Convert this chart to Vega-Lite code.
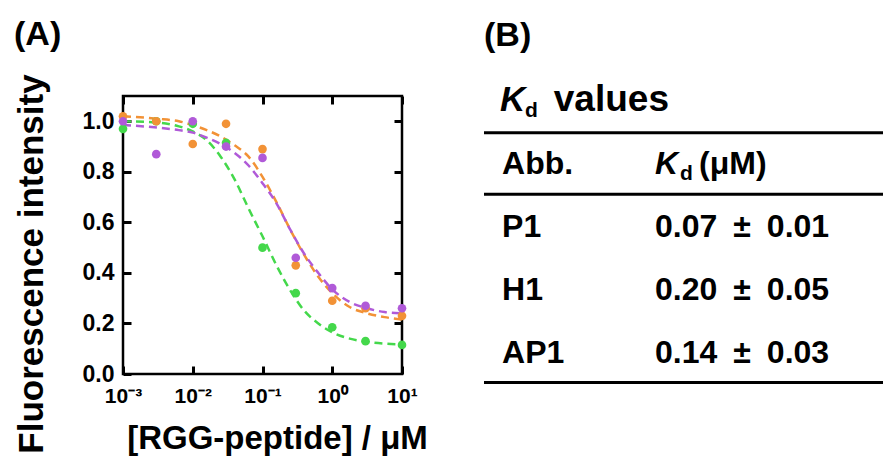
{
  "$schema": "https://vega.github.io/schema/vega-lite/v6.json",
  "background": "white",
  "padding": {"left": 12, "top": 16, "right": 0, "bottom": 0},
  "bounds": "flush",
  "spacing": 82,
  "config": {
    "view": {"stroke": null},
    "font": "Liberation Sans"
  },
  "datasets": {
    "pts": [
      {"peptide": "P1", "conc": 0.001, "fi": 0.97},
      {"peptide": "P1", "conc": 0.003, "fi": 1.0},
      {"peptide": "P1", "conc": 0.01, "fi": 0.99},
      {"peptide": "P1", "conc": 0.03, "fi": 0.915},
      {"peptide": "P1", "conc": 0.1, "fi": 0.5},
      {"peptide": "P1", "conc": 0.3, "fi": 0.32},
      {"peptide": "P1", "conc": 1, "fi": 0.185},
      {"peptide": "P1", "conc": 3, "fi": 0.13},
      {"peptide": "P1", "conc": 10, "fi": 0.115},
      {"peptide": "AP1", "conc": 0.001, "fi": 1.02},
      {"peptide": "AP1", "conc": 0.003, "fi": 1.0},
      {"peptide": "AP1", "conc": 0.01, "fi": 0.91},
      {"peptide": "AP1", "conc": 0.03, "fi": 0.99},
      {"peptide": "AP1", "conc": 0.1, "fi": 0.89},
      {"peptide": "AP1", "conc": 0.3, "fi": 0.43},
      {"peptide": "AP1", "conc": 1, "fi": 0.29},
      {"peptide": "AP1", "conc": 3, "fi": 0.26},
      {"peptide": "AP1", "conc": 10, "fi": 0.23},
      {"peptide": "H1", "conc": 0.001, "fi": 1.0},
      {"peptide": "H1", "conc": 0.003, "fi": 0.87},
      {"peptide": "H1", "conc": 0.01, "fi": 1.0},
      {"peptide": "H1", "conc": 0.03, "fi": 0.9},
      {"peptide": "H1", "conc": 0.1, "fi": 0.855},
      {"peptide": "H1", "conc": 0.3, "fi": 0.46},
      {"peptide": "H1", "conc": 1, "fi": 0.34},
      {"peptide": "H1", "conc": 3, "fi": 0.27},
      {"peptide": "H1", "conc": 10, "fi": 0.26}
    ],
    "fit": [
      {"peptide": "P1", "conc": 0.001, "fi": 1.0},
      {"peptide": "P1", "conc": 0.003162, "fi": 0.995},
      {"peptide": "P1", "conc": 0.00631, "fi": 0.98},
      {"peptide": "P1", "conc": 0.01, "fi": 0.96},
      {"peptide": "P1", "conc": 0.01585, "fi": 0.925},
      {"peptide": "P1", "conc": 0.02512, "fi": 0.86},
      {"peptide": "P1", "conc": 0.03981, "fi": 0.77},
      {"peptide": "P1", "conc": 0.0631, "fi": 0.655},
      {"peptide": "P1", "conc": 0.1, "fi": 0.545},
      {"peptide": "P1", "conc": 0.1585, "fi": 0.43},
      {"peptide": "P1", "conc": 0.2512, "fi": 0.33},
      {"peptide": "P1", "conc": 0.3981, "fi": 0.25},
      {"peptide": "P1", "conc": 0.631, "fi": 0.2},
      {"peptide": "P1", "conc": 1, "fi": 0.165},
      {"peptide": "P1", "conc": 1.778, "fi": 0.14},
      {"peptide": "P1", "conc": 3.162, "fi": 0.127},
      {"peptide": "P1", "conc": 5.623, "fi": 0.12},
      {"peptide": "P1", "conc": 10, "fi": 0.117},
      {"peptide": "AP1", "conc": 0.001, "fi": 1.02},
      {"peptide": "AP1", "conc": 0.003162, "fi": 1.01},
      {"peptide": "AP1", "conc": 0.00631, "fi": 1.0},
      {"peptide": "AP1", "conc": 0.01, "fi": 0.985},
      {"peptide": "AP1", "conc": 0.01585, "fi": 0.965},
      {"peptide": "AP1", "conc": 0.02512, "fi": 0.94},
      {"peptide": "AP1", "conc": 0.03981, "fi": 0.905},
      {"peptide": "AP1", "conc": 0.0631, "fi": 0.86},
      {"peptide": "AP1", "conc": 0.1, "fi": 0.78},
      {"peptide": "AP1", "conc": 0.1585, "fi": 0.68},
      {"peptide": "AP1", "conc": 0.2512, "fi": 0.57},
      {"peptide": "AP1", "conc": 0.3981, "fi": 0.47},
      {"peptide": "AP1", "conc": 0.631, "fi": 0.385},
      {"peptide": "AP1", "conc": 1, "fi": 0.32},
      {"peptide": "AP1", "conc": 1.778, "fi": 0.265},
      {"peptide": "AP1", "conc": 3.162, "fi": 0.24},
      {"peptide": "AP1", "conc": 5.623, "fi": 0.225},
      {"peptide": "AP1", "conc": 10, "fi": 0.215},
      {"peptide": "H1", "conc": 0.001, "fi": 0.985},
      {"peptide": "H1", "conc": 0.003162, "fi": 0.975},
      {"peptide": "H1", "conc": 0.00631, "fi": 0.965},
      {"peptide": "H1", "conc": 0.01, "fi": 0.955},
      {"peptide": "H1", "conc": 0.01585, "fi": 0.935},
      {"peptide": "H1", "conc": 0.02512, "fi": 0.91},
      {"peptide": "H1", "conc": 0.03981, "fi": 0.875},
      {"peptide": "H1", "conc": 0.0631, "fi": 0.825},
      {"peptide": "H1", "conc": 0.1, "fi": 0.755},
      {"peptide": "H1", "conc": 0.1585, "fi": 0.675},
      {"peptide": "H1", "conc": 0.2512, "fi": 0.57},
      {"peptide": "H1", "conc": 0.3981, "fi": 0.475},
      {"peptide": "H1", "conc": 0.631, "fi": 0.4},
      {"peptide": "H1", "conc": 1, "fi": 0.335},
      {"peptide": "H1", "conc": 1.778, "fi": 0.285},
      {"peptide": "H1", "conc": 3.162, "fi": 0.26},
      {"peptide": "H1", "conc": 5.623, "fi": 0.245},
      {"peptide": "H1", "conc": 10, "fi": 0.24}
    ],
    "rules": [
      {"row": 0.337},
      {"row": 1.316},
      {"row": 4.31}
    ],
    "cells": [
      {"row": 0, "col": 0.04, "text": "K", "part": "titleK"},
      {"row": 0, "col": 0.102, "text": "d", "part": "sub"},
      {"row": 0, "col": 0.174, "text": "values", "part": "title"},
      {"row": 1, "col": 0.045, "text": "Abb.", "part": "body"},
      {"row": 1, "col": 0.4264, "text": "K", "part": "headK"},
      {"row": 1, "col": 0.4888, "text": "d", "part": "sub"},
      {"row": 1, "col": 0.5362, "text": "(μM)", "part": "body"},
      {"row": 2, "col": 0.045, "text": "P1", "part": "body"},
      {"row": 2, "col": 0.4264, "text": "0.07\u2002±\u20020.01", "part": "body"},
      {"row": 3, "col": 0.045, "text": "H1", "part": "body"},
      {"row": 3, "col": 0.4264, "text": "0.20\u2002±\u20020.05", "part": "body"},
      {"row": 4, "col": 0.045, "text": "AP1", "part": "body"},
      {"row": 4, "col": 0.4264, "text": "0.14\u2002±\u20020.03", "part": "body"}
    ]
  },
  "hconcat": [
    {
      "width": 279,
      "height": 278,
      "view": {"stroke": "black", "strokeWidth": 2.5},
      "title": {
        "text": "(A)",
        "anchor": "start",
        "frame": "bounds",
        "font": "Liberation Sans",
        "fontSize": 34,
        "fontWeight": "bold",
        "color": "black",
        "baseline": "alphabetic",
        "offset": -5
      },
      "layer": [
        {
          "data": {"name": "fit"},
          "mark": {"type": "line", "strokeDash": [8, 5], "strokeWidth": 2.5, "interpolate": "monotone"},
          "encoding": {
            "x": {
              "field": "conc", "type": "quantitative",
              "scale": {"type": "log", "domain": [0.001, 10], "nice": false},
              "axis": {
                "orient": "top", "values": [0.001, 0.01, 0.1, 1, 10],
                "labels": false, "domain": false, "grid": false, "title": null,
                "tickSize": -8, "tickWidth": 3, "tickColor": "black"
              }
            },
            "y": {
              "field": "fi", "type": "quantitative",
              "scale": {"domain": [0, 1.1], "nice": false, "zero": false},
              "axis": {
                "orient": "right", "values": [0.2, 0.4, 0.6, 0.8, 1.0],
                "labels": false, "domain": false, "grid": false, "title": null,
                "tickSize": -8, "tickWidth": 3, "tickColor": "black"
              }
            },
            "color": {
              "field": "peptide", "type": "nominal",
              "scale": {"domain": ["P1", "AP1", "H1"], "range": ["#44d84b", "#f29236", "#b05ad8"]},
              "legend": null
            }
          }
        },
        {
          "data": {"name": "pts"},
          "mark": {"type": "circle", "size": 75, "opacity": 1},
          "encoding": {
            "x": {
              "field": "conc", "type": "quantitative",
              "axis": {
                "orient": "bottom", "values": [0.001, 0.01, 0.1, 1, 10],
                "labelExpr": "datum.value < 0.005 ? '10⁻³' : datum.value < 0.05 ? '10⁻²' : datum.value < 0.5 ? '10⁻¹' : datum.value < 5 ? '10⁰' : '10¹'",
                "labelFont": "Liberation Sans", "labelFontSize": 21, "labelFontWeight": "bold",
                "labelColor": "black", "labelPadding": 19, "labelFlush": false, "labelOverlap": false,
                "domain": false, "grid": false,
                "tickSize": -8, "tickWidth": 3, "tickColor": "black",
                "title": "[RGG-peptide] / μM",
                "titleFont": "Liberation Sans", "titleFontSize": 33, "titleFontWeight": "bold",
                "titleColor": "black", "titleX": 154, "titleY": 74,
                "titleBaseline": "alphabetic", "titleAlign": "center"
              }
            },
            "y": {
              "field": "fi", "type": "quantitative",
              "axis": {
                "orient": "left", "values": [0, 0.2, 0.4, 0.6, 0.8, 1.0], "format": ".1f",
                "labelFont": "Liberation Sans", "labelFontSize": 23, "labelFontWeight": "bold",
                "labelColor": "black", "labelPadding": 17, "labelFlush": false, "labelOverlap": false,
                "domain": false, "grid": false,
                "tickSize": -8, "tickWidth": 3, "tickColor": "black",
                "title": "Fluorescence intensity",
                "titleFont": "Liberation Sans", "titleFontSize": 35, "titleFontWeight": "bold",
                "titleColor": "black", "titleX": -81, "titleY": 167.5, "titleAngle": -90,
                "titleBaseline": "alphabetic", "titleAlign": "center"
              }
            },
            "color": {"field": "peptide", "type": "nominal", "legend": null}
          }
        }
      ],
      "resolve": {"axis": {"x": "independent", "y": "independent"}}
    },
    {
      "width": 401,
      "height": 278,
      "view": {"stroke": null},
      "title": {
        "text": "(B)",
        "anchor": "start",
        "frame": "group",
        "font": "Liberation Sans",
        "fontSize": 34,
        "fontWeight": "bold",
        "color": "black",
        "baseline": "alphabetic",
        "offset": 1
      },
      "encoding": {
        "y": {
          "field": "row", "type": "quantitative",
          "scale": {"domain": [-0.246, 4.174], "reverse": true, "nice": false, "zero": false},
          "axis": null
        }
      },
      "layer": [
        {
          "data": {"name": "rules"},
          "mark": {"type": "rule", "strokeWidth": 3, "color": "black"}
        },
        {
          "data": {"name": "cells"},
          "transform": [{"filter": "datum.part === 'body'"}],
          "mark": {"type": "text", "align": "left", "baseline": "alphabetic", "font": "Liberation Sans", "fontSize": 32, "fontWeight": "bold", "color": "black"},
          "encoding": {
            "x": {"field": "col", "type": "quantitative", "scale": {"domain": [0, 1], "nice": false, "zero": false}, "axis": null},
            "text": {"field": "text"}
          }
        },
        {
          "data": {"name": "cells"},
          "transform": [{"filter": "datum.part === 'title'"}],
          "mark": {"type": "text", "align": "left", "baseline": "alphabetic", "font": "Liberation Sans", "fontSize": 37, "fontWeight": "bold", "color": "black"},
          "encoding": {
            "x": {"field": "col", "type": "quantitative"},
            "text": {"field": "text"}
          }
        },
        {
          "data": {"name": "cells"},
          "transform": [{"filter": "datum.part === 'titleK'"}],
          "mark": {"type": "text", "align": "left", "baseline": "alphabetic", "font": "Liberation Sans", "fontSize": 35, "fontWeight": "bold", "fontStyle": "italic", "color": "black"},
          "encoding": {
            "x": {"field": "col", "type": "quantitative"},
            "text": {"field": "text"}
          }
        },
        {
          "data": {"name": "cells"},
          "transform": [{"filter": "datum.part === 'headK'"}],
          "mark": {"type": "text", "align": "left", "baseline": "alphabetic", "font": "Liberation Sans", "fontSize": 32, "fontWeight": "bold", "fontStyle": "italic", "color": "black"},
          "encoding": {
            "x": {"field": "col", "type": "quantitative"},
            "text": {"field": "text"}
          }
        },
        {
          "data": {"name": "cells"},
          "transform": [{"filter": "datum.part === 'sub'"}],
          "mark": {"type": "text", "align": "left", "baseline": "alphabetic", "dy": 6, "font": "Liberation Sans", "fontSize": 21, "fontWeight": "bold", "color": "black"},
          "encoding": {
            "x": {"field": "col", "type": "quantitative"},
            "text": {"field": "text"}
          }
        }
      ]
    }
  ]
}
